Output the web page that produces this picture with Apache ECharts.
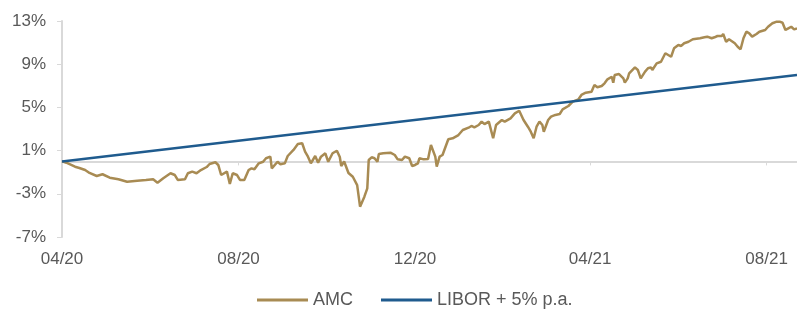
<!DOCTYPE html>
<html>
<head>
<meta charset="utf-8">
<script src="https://cdn.jsdelivr.net/npm/echarts@6/dist/echarts.min.js"></script>
</head>
<body style="margin:0">
<div id="chart" style="width:797px;height:311px"></div>
<script>
var amcDates = [
    '2020-04-01','2020-04-04','2020-04-10','2020-04-13','2020-04-17','2020-04-20','2020-04-25','2020-04-29',
    '2020-05-04','2020-05-10','2020-05-16','2020-05-23','2020-05-29',
    '2020-06-03','2020-06-06','2020-06-10','2020-06-15','2020-06-18','2020-06-20','2020-06-25','2020-06-27','2020-06-30',
    '2020-07-03','2020-07-06','2020-07-10','2020-07-12','2020-07-16','2020-07-18','2020-07-20','2020-07-24','2020-07-26','2020-07-28','2020-07-31',
    '2020-08-02','2020-08-05','2020-08-08','2020-08-10','2020-08-12','2020-08-15','2020-08-18','2020-08-20','2020-08-23','2020-08-24','2020-08-25','2020-08-28','2020-08-30',
    '2020-09-02','2020-09-04','2020-09-08','2020-09-11','2020-09-14','2020-09-16','2020-09-18','2020-09-20','2020-09-23','2020-09-25','2020-09-27','2020-09-30',
    '2020-10-02','2020-10-05','2020-10-08','2020-10-10','2020-10-11','2020-10-13','2020-10-16','2020-10-19','2020-10-22','2020-10-24','2020-10-25','2020-10-27','2020-10-29','2020-10-30',
    '2020-11-01','2020-11-03','2020-11-05','2020-11-06','2020-11-09','2020-11-14','2020-11-17','2020-11-19','2020-11-22','2020-11-24','2020-11-27','2020-11-29',
    '2020-12-01','2020-12-03','2020-12-04','2020-12-07','2020-12-10','2020-12-12','2020-12-15','2020-12-16','2020-12-18','2020-12-20','2020-12-24','2020-12-27','2020-12-31',
    '2021-01-03','2021-01-07','2021-01-09','2021-01-11','2021-01-14','2021-01-16','2021-01-18','2021-01-21','2021-01-24','2021-01-26','2021-01-30',
    '2021-02-01','2021-02-05','2021-02-08','2021-02-11','2021-02-14','2021-02-17','2021-02-19','2021-02-21','2021-02-23','2021-02-25','2021-02-27','2021-02-28',
    '2021-03-03','2021-03-05','2021-03-08','2021-03-11','2021-03-13','2021-03-17','2021-03-20','2021-03-24','2021-03-26','2021-03-29',
    '2021-04-02','2021-04-03','2021-04-04','2021-04-06','2021-04-09','2021-04-11','2021-04-13','2021-04-16','2021-04-17','2021-04-18','2021-04-21','2021-04-24','2021-04-25','2021-04-27','2021-04-28',
    '2021-05-02','2021-05-04','2021-05-06','2021-05-09','2021-05-11','2021-05-13','2021-05-14','2021-05-17','2021-05-20','2021-05-23','2021-05-25','2021-05-27','2021-05-29',
    '2021-06-01','2021-06-03','2021-06-05','2021-06-08','2021-06-11','2021-06-16','2021-06-19','2021-06-21','2021-06-24','2021-06-26','2021-06-28',
    '2021-07-01','2021-07-02','2021-07-04','2021-07-06','2021-07-10','2021-07-12','2021-07-14','2021-07-16','2021-07-18','2021-07-20','2021-07-22','2021-07-25','2021-07-27','2021-07-31',
    '2021-08-02','2021-08-05','2021-08-08','2021-08-10','2021-08-12','2021-08-14','2021-08-16','2021-08-18','2021-08-20','2021-08-22'
];
var amcValues = [
    0, -0.12, -0.49, -0.61, -0.80, -1.07, -1.35, -1.19,
    -1.51, -1.66, -1.88, -1.79, -1.72,
    -1.66, -1.97, -1.56, -1.10, -1.26, -1.72, -1.66, -1.10, -0.95,
    -1.10, -0.80, -0.52, -0.24, -0.08, -0.33, -1.26, -0.95, -2.09, -1.10, -1.26,
    -1.72, -1.72, -0.80, -0.64, -0.73, -0.18, -0.03, 0.29, 0.44, -0.64, -0.73, -0.03, -0.27,
    -0.18, 0.50, 1.06, 1.61, 1.68, 0.90, 0.44, -0.18, 0.50, -0.12, 0.44, 0.75,
    -0.03, 0.75, 0.99, 0.41, -0.43, -0.01, -1.07, -1.42, -2.19, -4.19, -4.34, -3.27, -2.49, 0.13,
    0.38, 0.29, -0.03, 0.69, 0.75, 0.81, 0.59, 0.19, 0.13, 0.44, 0.29, -0.43,
    -0.33, -0.18, 0.29, 0.19, 0.22, 1.52, 0.44, -0.49, 0.44, 0.59, 2.05, 2.14, 2.44,
    2.91, 3.12, 3.28, 3.16, 3.37, 3.68, 3.46, 3.68, 2.14, 3.37, 3.83,
    3.68, 3.99, 4.45, 4.69, 3.83, 3.21, 2.75, 2.14, 3.21, 3.68, 3.37, 2.75,
    3.83, 4.14, 4.30, 4.39, 4.82, 5.13, 5.53, 5.75, 6.15, 6.36,
    6.45, 6.77, 7.07, 6.86, 6.98, 7.23, 7.60, 7.84, 7.29, 8.00, 8.09, 7.69, 7.29, 7.69, 8.16,
    8.71, 8.46, 7.69, 8.31, 8.62, 8.71, 8.46, 9.08, 9.23, 10.01, 9.85, 9.69, 10.47,
    10.78, 10.69, 10.94, 11.08, 11.31, 11.40, 11.49, 11.55, 11.40, 11.49, 11.61,
    11.61, 11.80, 11.08, 11.31, 10.94, 10.62, 10.38, 11.40, 12.01, 11.86, 11.55, 11.80, 12.01, 12.17,
    12.47, 12.79, 12.94, 12.94, 12.84, 12.17, 12.32, 12.47, 12.23, 12.32
];
var liborDates = ['2020-04-01', '2021-08-22'];
var liborValues = [0, 8.0];
var tickDates = ['2020-04-01', '2020-08-01', '2020-12-01', '2021-04-01', '2021-08-01'];
var yTicks = [-7, -3, 1, 5, 9, 13];

function ts(s) {
    var p = s.split('-');
    return new Date(+p[0], +p[1] - 1, +p[2]).getTime();
}
function toPairs(dates, values) {
    var out = [];
    for (var i = 0; i < dates.length; i++) out.push([ts(dates[i]), values[i]]);
    return out;
}
function monthLabel(v) {
    var d = new Date(v);
    var m = d.getMonth() + 1;
    return (m < 10 ? '0' + m : m) + '/' + String(d.getFullYear()).slice(2);
}

var tickValues = tickDates.map(ts);
var labelColor = '#595959';
var axisGrey = '#d9d9d9';
var font = 'Liberation Sans, Arial, sans-serif';

var chart = echarts.init(document.getElementById('chart'));
var option = {
    animation: false,
    grid: { left: 62, right: 0, top: 21, bottom: 74 },
    legend: {
        left: 252,
        top: 286,
        icon: 'rect',
        itemWidth: 51,
        itemHeight: 3,
        itemGap: 28,
        textStyle: { color: labelColor, fontSize: 18, fontFamily: font },
        data: ['AMC', 'LIBOR + 5% p.a.']
    },
    xAxis: [
        {
            type: 'value',
            position: 'bottom',
            min: ts(liborDates[0]),
            max: ts(liborDates[1]),
            axisLine: { onZero: true, lineStyle: { color: axisGrey, width: 2 } },
            axisTick: { show: true, length: 4, customValues: tickValues, lineStyle: { color: axisGrey } },
            axisLabel: { show: false },
            splitLine: { show: false }
        },
        {
            type: 'value',
            position: 'bottom',
            min: ts(liborDates[0]),
            max: ts(liborDates[1]),
            axisLine: { show: false, onZero: false },
            axisTick: { show: false },
            axisLabel: {
                customValues: tickValues,
                formatter: monthLabel,
                margin: 14,
                color: labelColor,
                fontSize: 17,
                fontFamily: font
            },
            splitLine: { show: false }
        }
    ],
    yAxis: {
        type: 'value',
        min: yTicks[0],
        max: yTicks[yTicks.length - 1],
        interval: 4,
        axisLine: { show: true, lineStyle: { color: axisGrey, width: 2 } },
        axisTick: { show: true, length: 5, lineStyle: { color: axisGrey } },
        axisLabel: {
            formatter: '{value}%',
            margin: 16,
            color: labelColor,
            fontSize: 17,
            fontFamily: font
        },
        splitLine: { show: false }
    },
    series: [
        {
            name: 'AMC',
            type: 'line',
            xAxisIndex: 0,
            showSymbol: false,
            symbol: 'none',
            color: '#a88b53',
            lineStyle: { width: 2.5, color: '#a88b53' },
            data: toPairs(amcDates, amcValues)
        },
        {
            name: 'LIBOR + 5% p.a.',
            type: 'line',
            xAxisIndex: 0,
            showSymbol: false,
            symbol: 'none',
            color: '#1f5b8e',
            lineStyle: { width: 2.5, color: '#1f5b8e' },
            data: toPairs(liborDates, liborValues)
        }
    ]
};
chart.setOption(option);
</script>
</body>
</html>
